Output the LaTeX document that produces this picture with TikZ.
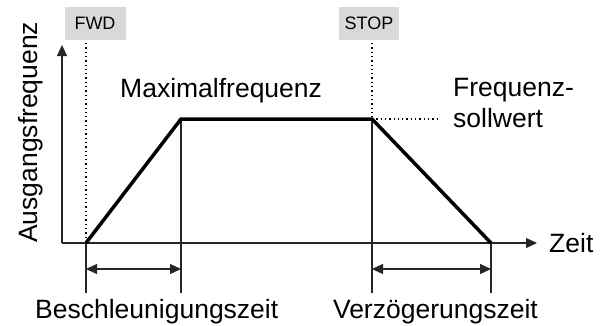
\documentclass[tikz,border=0pt]{standalone}
\usepackage{fontspec}
\setmainfont{Liberation Sans}
\usetikzlibrary{arrows.meta}
\definecolor{boxgray}{RGB}{217, 217, 217}

\begin{document}
\begin{tikzpicture}[x=1pt, y=1pt,
    thin line/.style={line width=1.2pt, color=black!85},
    ramp/.style={line width=3.5pt, line join=miter},
    guide/.style={line width=1.3pt, dash pattern=on 1.3pt off 3pt},
    axis/.style={thin line, -{Triangle[length=11pt,width=10pt]}},
    span/.style={thin line, {Triangle[length=11pt,width=10pt]}-{Triangle[length=11pt,width=10pt]}},
    cmdbox/.style={fill=boxgray, minimum width=61pt, minimum height=33pt, inner sep=0pt, font=\fontsize{18}{20}\selectfont},
    label/.style={font=\fontsize{26.5}{31}\selectfont, inner sep=0pt}]
  \useasboundingbox (0,0) rectangle (607,325);
  \def\base{82}
  \def\top{206}
  \def\low{32}

%corners of the curve:
  \coordinate (O) at (62,\base);
  \coordinate (A) at (86,\base);
  \coordinate (B) at (181,\top);
  \coordinate (C) at (372,\top);
  \coordinate (D) at (491,\base);

%command boxes:
  \node[cmdbox] (fwd) at (95,301.5) {FWD};
  \node[cmdbox, minimum width=60pt] (stop) at (369,301.5) {STOP};
  \draw[guide] (86,282) -- (A);
  \draw[guide] (372,282) -- (C);
  \draw[guide] (C) -- (440,\top);

%axes:
  \draw[axis] (O) -- (62,280);
  \draw[axis] (O) -- (537,\base) coordinate (xend);
  \node[label, anchor=base west] (zeit) at (549,72.5) {Zeit};
  \node[label, rotate=90, anchor=base west] (yname) at (37,\base) {Ausgangsfrequenz};

%time marks:
  \draw[thin line] (A) -- (86,\low);
  \draw[thin line] (B) -- (181,\low);
  \draw[thin line] (C) -- (372,\low);
  \draw[thin line] (D) -- (491,\low);
  \draw[span] (86,56) -- (181,56);
  \draw[span] (372,56) -- (491,56);

  \draw[ramp] (A) -- (B) -- (C) -- (D);

  \node[label, anchor=base west] (fmax) at (120,228) {Maximalfrequenz};
  \node[label, anchor=base west, align=left] (fset) at (453,198) {Frequenz-\\sollwert};
  \node[label, anchor=base west] (tacc) at (35,7) {Beschleunigungszeit};
  \node[label, anchor=base east] (tdec) at (538,7) {Verzögerungszeit};
\end{tikzpicture}
\end{document}
